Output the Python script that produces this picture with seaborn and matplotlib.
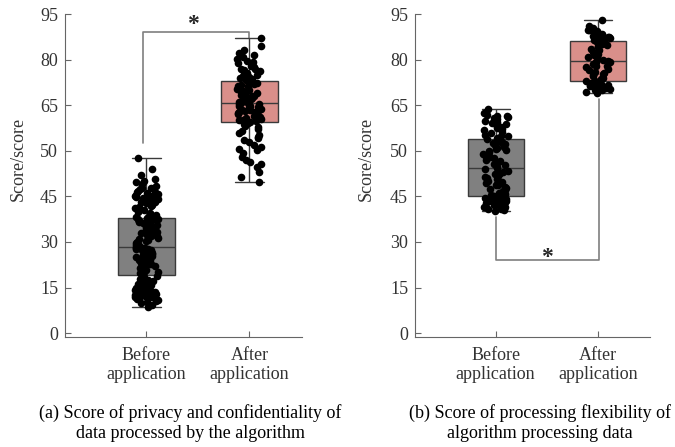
import matplotlib
matplotlib.use("Agg")
import matplotlib.pyplot as plt
import numpy as np
import pandas as pd
import seaborn as sns

groups = ["Before\napplication", "After\napplication"]
# the y axis is evenly spaced but labelled 0,15,30,45,50,65,80,95
tick_pos = [0, 15, 30, 45, 60, 75, 90, 105]
tick_labels = ["0", "15", "30", "45", "50", "65", "80", "95"]

a_before = [
    8.5, 9.2, 9.8, 10.1, 10.5, 10.9, 11.3, 11.6, 12.0, 12.2, 12.5, 12.9, 13.2, 13.4, 13.8,
    14.1, 14.3, 14.6, 14.9, 15.2, 15.5, 15.8, 16.0, 16.3, 16.7, 17.0, 17.4, 17.8, 18.3, 18.8,
    10.8, 11.9, 13.0, 13.6, 14.4, 15.0, 16.5, 17.6,
    19.3, 19.8, 20.2, 20.7, 21.1, 21.5, 21.9, 22.2, 22.6, 23.0, 23.3, 23.7, 24.0, 24.4, 24.8,
    25.1, 25.4, 25.7, 26.0, 26.3, 26.6, 26.9, 27.1, 27.3, 27.5, 27.7, 27.9, 28.0, 28.1, 28.2,
    20.0, 21.3, 22.9, 24.2, 25.5, 26.5, 27.2, 27.8,
    28.4, 28.8, 29.3, 29.7, 30.1, 30.6, 31.0, 31.4, 31.8, 32.2, 32.6, 33.0, 33.3, 33.7, 34.0,
    34.4, 34.7, 35.0, 35.3, 35.6, 35.9, 36.2, 36.5, 36.8, 37.0, 37.2, 37.4, 37.6, 37.8, 37.9,
    29.0, 30.4, 32.0, 33.5, 34.8, 35.8, 36.6, 37.5,
    38.3, 38.9, 39.5, 40.0, 40.6, 41.1, 41.5, 42.0, 42.4, 42.8, 43.2, 43.6, 44.0, 44.3, 44.7,
    45.0, 45.4, 45.8, 46.1, 46.5, 46.9, 47.3, 47.8, 48.3, 49.0, 49.8, 50.7, 52.0, 54.0, 57.5,
    41.8, 43.0, 43.8, 44.5, 45.2, 46.3, 47.6, 50.2,
]
a_after = [
    49.6, 51.5, 53.0, 54.5, 55.8, 57.0, 58.1, 59.2, 60.2, 61.1, 62.0, 62.9, 63.7, 64.5, 65.2,
    65.9, 66.6, 67.2, 67.8, 68.3, 68.8, 69.2, 56.4, 60.7, 64.1,
    69.4, 69.7, 70.0, 70.3, 70.6, 70.9, 71.2, 71.5, 71.8, 72.1, 72.4, 72.7, 73.0, 73.3, 73.6,
    73.9, 74.2, 74.5, 74.8, 75.0, 75.3, 75.5, 75.7, 70.1, 72.9, 74.6,
    75.9, 76.2, 76.5, 76.8, 77.1, 77.4, 77.7, 78.0, 78.3, 78.6, 78.9, 79.2, 79.5, 79.8, 80.1,
    80.4, 80.8, 81.2, 81.6, 82.0, 82.4, 82.7, 77.9, 79.6, 81.4,
    82.9, 83.3, 83.7, 84.1, 84.5, 84.9, 85.3, 85.7, 86.1, 86.5, 87.0, 87.5, 88.0, 88.5, 89.0,
    89.6, 90.2, 90.8, 91.5, 92.3, 93.2, 94.5, 97.0, 84.3, 86.8, 89.3,
]
b_before = [
    40.1, 40.5, 40.8, 41.1, 41.4, 41.6, 41.8, 42.0, 42.2, 42.4, 42.6, 42.8, 43.0, 43.2, 43.4,
    43.6, 43.8, 44.0, 44.2, 44.4, 44.6, 44.8, 41.0, 42.1, 43.5,
    45.0, 45.4, 45.8, 46.2, 46.6, 47.0, 47.4, 47.8, 48.2, 48.6, 49.0, 49.4, 49.8, 50.2, 50.6,
    51.0, 51.4, 51.8, 52.2, 52.6, 53.0, 53.5, 54.0, 46.0, 48.9, 52.4,
    54.4, 54.8, 55.2, 55.6, 56.0, 56.5, 57.0, 57.5, 58.0, 58.5, 59.0, 59.5, 60.0, 60.5, 61.0,
    61.4, 61.8, 62.2, 62.6, 63.0, 63.3, 63.6, 57.8, 60.2, 62.4,
    63.8, 64.3, 64.8, 65.3, 65.8, 66.3, 66.7, 67.1, 67.5, 67.9, 68.3, 68.7, 69.1, 69.5, 69.9,
    70.3, 70.7, 71.1, 71.5, 71.9, 72.3, 72.8, 73.6, 65.0, 68.0, 71.3,
]
b_after = [
    78.9, 79.5, 80.0, 80.3, 80.6, 80.9, 81.2, 81.5, 81.8, 82.0, 82.2, 82.4, 82.6, 82.8, 82.9,
    80.1, 81.7,
    83.1, 83.5, 84.0, 84.5, 85.0, 85.5, 86.0, 86.5, 87.0, 87.5, 88.0, 88.4, 88.8, 89.1, 89.3,
    85.2, 87.8,
    89.5, 90.0, 90.5, 91.0, 91.5, 92.0, 92.5, 93.0, 93.5, 94.0, 94.5, 95.0, 95.5, 95.9, 96.2,
    91.2, 94.8,
    96.4, 96.7, 97.0, 97.3, 97.6, 97.9, 98.2, 98.5, 98.8, 99.1, 99.4, 99.8, 100.3, 101.2, 103.0,
    97.5, 99.6,
]

captions = [
    "(a) Score of privacy and confidentiality of\ndata processed by the algorithm",
    "(b) Score of processing flexibility of\nalgorithm processing data",
]

GRAY = "#808080"
SALMON = "#d98f8a"
TEXT = "#333333"

sns.set_style("ticks")
plt.rcParams["font.family"] = ["Liberation Serif", "DejaVu Serif"]


def draw_panel(ax, before, after):
    df = pd.DataFrame(
        {
            "group": [groups[0]] * len(before) + [groups[1]] * len(after),
            "score": before + after,
        }
    )
    sns.boxplot(
        data=df, x="group", y="score", hue="group", order=groups, hue_order=groups,
        palette=[GRAY, SALMON], saturation=1, width=0.55, whis=(0, 100),
        showfliers=False, linecolor="#3a3a3a", linewidth=1.0, legend=False, ax=ax,
    )
    sns.stripplot(
        data=df, x="group", y="score", order=groups, color="black", size=5.5,
        jitter=0.12, linewidth=0, ax=ax, zorder=3,
    )
    ax.set_xlim(-0.79, 1.51)
    ax.set_ylim(-1.3, 105)
    ax.set_yticks(tick_pos)
    ax.set_yticklabels(tick_labels)
    ax.set_xlabel("")
    ax.set_ylabel("Score/score", fontsize=13, color=TEXT)
    ax.tick_params(axis="both", direction="in", length=4, labelsize=13,
                   labelcolor=TEXT, color="#666666")
    ax.tick_params(axis="y", pad=5)
    ax.tick_params(axis="x", pad=7)
    for side in ["left", "bottom"]:
        ax.spines[side].set_color("#666666")
    sns.despine(ax=ax)


np.random.seed(3)
fig = plt.figure(figsize=(6.75, 4.47), dpi=100)
ax_a = fig.add_axes([0.0963, 0.246, 0.351, 0.7226])
ax_b = fig.add_axes([0.6148, 0.246, 0.348, 0.7226])

draw_panel(ax_a, a_before, a_after)
draw_panel(ax_b, b_before, b_after)
ax_a.yaxis.set_label_coords(-0.16, 0.55)
ax_b.yaxis.set_label_coords(-0.17, 0.55)

# significance brackets
line_kw = dict(color="#7f7f7f", linewidth=1.2, clip_on=False, zorder=1)
top_a = max(a_after) + 2.2
ax_a.plot([-0.03, -0.03, 1.0, 1.0], [max(a_before) + 5, top_a, top_a, max(a_after)], **line_kw)
ax_a.text(0.45, top_a + 2.5, "*", ha="center", va="center", fontsize=17,
          fontweight="bold", clip_on=False)

low_b = 24
ax_b.plot([0, 0, 1.01, 1.01], [min(b_before) - 2, low_b, low_b, min(b_after) - 2], **line_kw)
ax_b.text(0.5, low_b + 1.0, "*", ha="center", va="center", fontsize=17,
          fontweight="bold")

fig.text(0.2815, 0.054, captions[0], ha="center", va="center", fontsize=13,
         linespacing=1.2, color="black")
fig.text(0.80, 0.054, captions[1], ha="center", va="center", fontsize=13,
         linespacing=1.2, color="black")

fig.savefig("out.png", dpi=100)
